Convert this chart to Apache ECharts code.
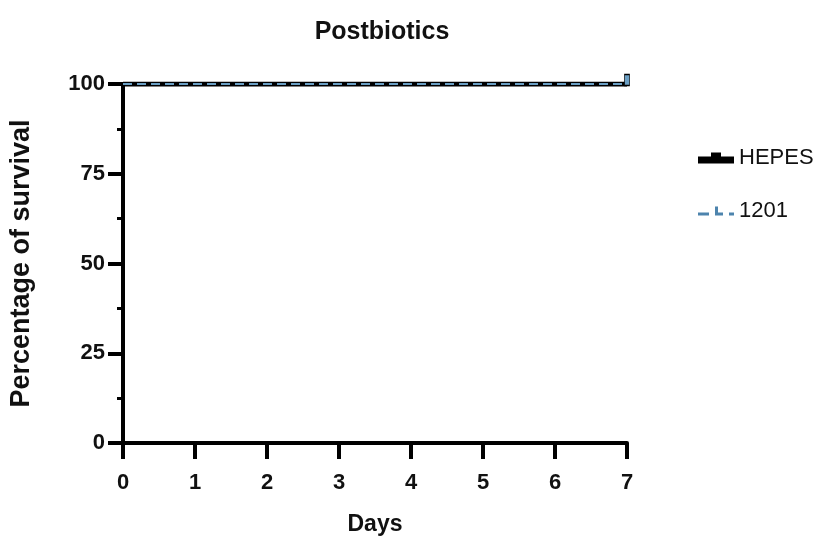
<!DOCTYPE html>
<html><head><meta charset="utf-8">
<script src="https://cdn.jsdelivr.net/npm/echarts@6/dist/echarts.min.js"></script>
<style>html,body{margin:0;padding:0;background:#fff}#c{width:827px;height:546px}</style>
</head><body><div id="c"></div>
<script>
const days = [0, 7];
const hepes = [100, 100];
const s1201 = [100, 100];
const xTicks = [0,1,2,3,4,5,6,7];
const yTicks = [0,25,50,75,100];

const FONT = '"Liberation Sans", Arial, sans-serif';
const chart = echarts.init(document.getElementById('c'), null, {renderer:'canvas'});
chart.setOption({
  animation:false,
  backgroundColor:'#fff',
  title:{text:'Postbiotics', left:377, top:15, textAlign:'center',
    textStyle:{fontFamily:FONT, fontWeight:'bold', fontSize:25, color:'#111'}},
  legend:{orient:'vertical', left:693, top:142, itemGap:31, itemWidth:36, itemHeight:12,
    textStyle:{fontFamily:FONT, fontSize:22, color:'#111'},
    data:[
      {name:'HEPES', icon:'path://M0,4 L13,4 L13,0 L23,0 L23,4 L36,4 L36,11 L0,11 Z', itemStyle:{color:'#000'}},
      {name:'1201', icon:'path://M0,6 L11,6 L11,9 L0,9 Z M17,0 L20,0 L20,6 L25,6 L25,9 L17,9 Z M31,6 L36,6 L36,9 L31,9 Z', itemStyle:{color:'#4d84ad'}}
    ]},
  grid:{left:123, right:200, top:84, bottom:103},
  xAxis:{type:'value', min:0, max:7, interval:1,
    name:'Days', nameLocation:'middle', nameGap:70,
    nameTextStyle:{fontFamily:FONT, fontWeight:'bold', fontSize:23, color:'#111'},
    axisLine:{show:true, lineStyle:{color:'#000', width:4}},
    axisTick:{show:true, length:16, lineStyle:{color:'#000', width:4}},
    splitLine:{show:false},
    axisLabel:{fontFamily:FONT, fontWeight:'bold', fontSize:22, color:'#111', margin:29,
      formatter:v=>xTicks.includes(v)?String(v):''}},
  yAxis:{type:'value', min:0, max:100, interval:25,
    name:'Percentage of survival', nameLocation:'middle', nameGap:88,
    nameTextStyle:{fontFamily:FONT, fontWeight:'bold', fontSize:27, color:'#111'},
    axisLine:{show:true, lineStyle:{color:'#000', width:4}},
    axisTick:{show:true, length:15, lineStyle:{color:'#000', width:4}},
    minorTick:{show:true, splitNumber:2, length:6, lineStyle:{color:'#000', width:3}},
    splitLine:{show:false},
    axisLabel:{fontFamily:FONT, fontWeight:'bold', fontSize:22, color:'#111', margin:18,
      formatter:v=>yTicks.includes(v)?String(v):''}},
  series:[
    {name:'HEPES', type:'line', step:'end', data:days.map((d,i)=>[d,hepes[i]]),
      symbol:'none', lineStyle:{color:'#000', width:5}, itemStyle:{color:'#000'}, z:3},
    {name:'1201', type:'line', step:'end', data:days.map((d,i)=>[d,s1201[i]]),
      symbol:'none', lineStyle:{color:'#6a9fc4', width:2, type:[9,5]}, itemStyle:{color:'#4d84ad'}, z:4,
      markPoint:{symbol:'rect', symbolSize:[5,11], symbolOffset:[0,-4], silent:true, label:{show:false},
        itemStyle:{color:'#6a9fc4', borderColor:'#000', borderWidth:1},
        data:[{coord:[days[1], s1201[1]]}]}}
  ]
});
</script></body></html>
